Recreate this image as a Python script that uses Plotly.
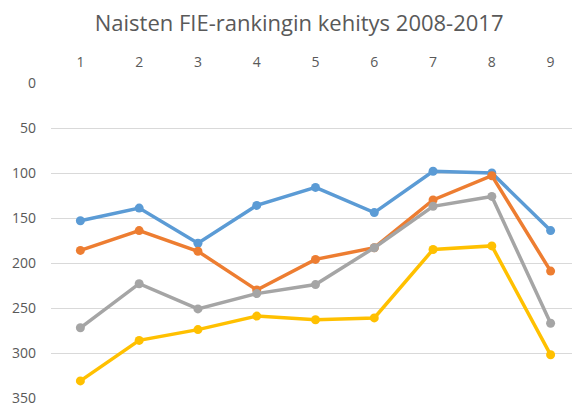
import plotly.graph_objects as go

categories = [1, 2, 3, 4, 5, 6, 7, 8, 9]
blue_vals = [153, 139, 178, 136, 116, 144, 98, 100, 164]
orange_vals = [186, 164, 187, 230, 196, 183, 130, 103, 209]
gray_vals = [272, 223, 251, 234, 224, 183, 137, 126, 267]
yellow_vals = [331, 286, 274, 259, 263, 261, 185, 181, 302]
y_ticks = [0, 50, 100, 150, 200, 250, 300, 350]

series = [
    ("Sarja1", blue_vals, "#5B9BD5"),
    ("Sarja2", orange_vals, "#ED7D31"),
    ("Sarja3", gray_vals, "#A5A5A5"),
    ("Sarja4", yellow_vals, "#FFC000"),
]

fig = go.Figure()
for name, vals, col in series:
    fig.add_trace(go.Scatter(
        x=categories, y=vals, name=name, mode="lines+markers",
        line=dict(color=col, width=3.5),
        marker=dict(color=col, size=9),
    ))

font_family = "Open Sans"
# page body has an 8px default margin, so the figure is sized 572x402
fig.update_layout(
    width=572, height=402,
    margin=dict(l=43, r=0, t=75, b=12, autoexpand=False),
    paper_bgcolor="white", plot_bgcolor="white",
    showlegend=False,
    title=dict(text="Naisten FIE-rankingin kehitys 2008-2017",
               x=0.509, xanchor="center", y=0.962, yanchor="middle",
               font=dict(family=font_family, size=22, color="#595959")),
    font=dict(family=font_family, size=14, color="#595959"),
)
fig.update_xaxes(
    range=[0.5, 9.5], side="top", tickvals=categories,
    showgrid=False, zeroline=False, showline=False, automargin=False,
    ticks="", ticklabelstandoff=12,
    tickfont=dict(size=14, color="#595959"),
)
fig.update_yaxes(
    range=[350, 0], tickvals=y_ticks, automargin=False,
    showgrid=True, gridcolor="#D9D9D9", gridwidth=1,
    zeroline=False, showline=False, ticks="", ticklabelstandoff=14,
    tickfont=dict(size=14, color="#595959"),
)
fig.write_html("out.html")
